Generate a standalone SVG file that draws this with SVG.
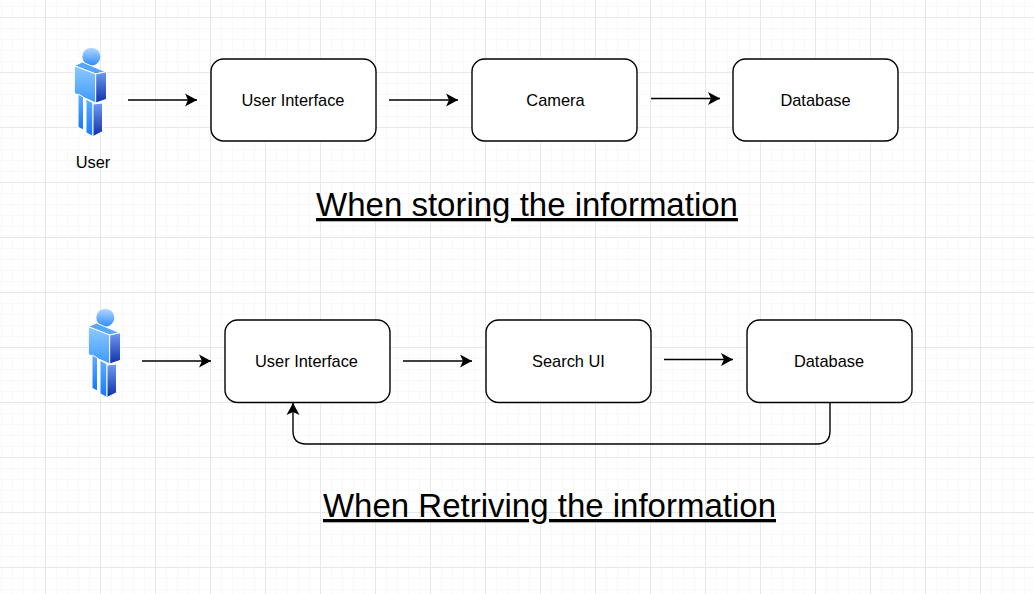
<svg xmlns="http://www.w3.org/2000/svg" xmlns:xlink="http://www.w3.org/1999/xlink" width="1034" height="594" viewBox="0 0 1034 594">
<style>
.box{fill:#fff;stroke:#000;stroke-width:1.4}
.lbl{font-family:"Liberation Sans",Arial,sans-serif;font-size:16.4px;fill:#000;text-anchor:middle}
.title{font-family:"Liberation Sans",Arial,sans-serif;font-size:33px;fill:#000;text-anchor:middle;text-decoration:underline}
.edge{fill:none;stroke:#000;stroke-width:1.4}
</style>
<defs>
<pattern id="minor" width="11" height="11" patternUnits="userSpaceOnUse" x="1" y="6"><path d="M0.5 0V11M0 0.5H11" fill="none" stroke="#f8f8f8" stroke-width="1"/></pattern>
<pattern id="major" width="55" height="55" patternUnits="userSpaceOnUse" x="45" y="17"><path d="M0.5 0V55M0 0.5H55" fill="none" stroke="#e8e8e8" stroke-width="1"/></pattern>
<marker id="arrow" markerUnits="userSpaceOnUse" markerWidth="14" markerHeight="14" refX="13" refY="7" orient="auto"><path d="M1 0.5L13 7L1 13.500L4 7Z" fill="#000"/></marker>
<linearGradient id="head" x1="0" y1="0" x2="0" y2="1"><stop offset="0" stop-color="#b4d8ff"/><stop offset="1" stop-color="#2e8bff"/></linearGradient>
<linearGradient id="light" x1="0" y1="0" x2="0" y2="1"><stop offset="0" stop-color="#8fcbff"/><stop offset="1" stop-color="#3d98ff"/></linearGradient>
<linearGradient id="dark" x1="0" y1="0" x2="0" y2="1"><stop offset="0" stop-color="#6f9cf0"/><stop offset="1" stop-color="#0f2fa8"/></linearGradient>
<linearGradient id="leg" x1="0" y1="0" x2="0" y2="1"><stop offset="0" stop-color="#5fb0ff"/><stop offset="1" stop-color="#1577ff"/></linearGradient>
<g id="person" stroke="#fff" stroke-width="1">
<circle cx="91.3" cy="56.7" r="9" fill="url(#head)" stroke="none"/>
<polygon points="74.3,65.7 82.3,62 105.500,71.7 95.7,74" fill="#56a8ff"/>
<polygon points="74.3,65.7 95.7,74 95.7,103 74.3,93.3" fill="url(#light)"/>
<polygon points="95.7,74 106.500,71.7 106.500,99.3 95.7,103" fill="url(#dark)"/>
<polygon points="78,94 83.5,97 83.5,130 78,127.3" fill="url(#leg)"/>
<polygon points="86,99 93,103 93,136.500 86,132.7" fill="url(#leg)"/>
<polygon points="93,104 102.500,103 102.500,131.7 93,136.500" fill="url(#dark)"/>
</g>
</defs>
<rect width="1034" height="594" fill="#fff"/>
<rect width="1034" height="594" fill="url(#minor)"/>
<rect width="1034" height="594" fill="url(#major)"/>
<g id="connectors">
<path class="edge" marker-end="url(#arrow)" d="M128 100H197"/>
<path class="edge" marker-end="url(#arrow)" d="M389 100H458"/>
<path class="edge" marker-end="url(#arrow)" d="M651 98.500H720"/>
<path class="edge" marker-end="url(#arrow)" d="M142 361H211"/>
<path class="edge" marker-end="url(#arrow)" d="M403 361H472"/>
<path class="edge" marker-end="url(#arrow)" d="M664 359.500H733"/>
<path class="edge" marker-end="url(#arrow)" d="M830 403V431Q830 444 817 444H306Q293 444 293 431V403"/>
</g>
<g id="user1"><use href="#person" xlink:href="#person"/><text class="lbl" x="93" y="167.500">User</text></g>
<g id="ui1"><rect class="box" x="211" y="59" width="165" height="82" rx="12.500"/><text class="lbl" x="293" y="105.500">User Interface</text></g>
<g id="camera"><rect class="box" x="472" y="59" width="165" height="82" rx="12.500"/><text class="lbl" x="555.500" y="105.500">Camera</text></g>
<g id="db1"><rect class="box" x="733" y="59" width="165" height="82" rx="12.500"/><text class="lbl" x="815.500" y="105.500">Database</text></g>
<g id="title1"><text class="title" x="527" y="216">When storing the information</text></g>
<g id="user2"><use href="#person" xlink:href="#person" transform="translate(14,261)"/></g>
<g id="ui2"><rect class="box" x="225" y="320" width="165" height="82.500" rx="12.500"/><text class="lbl" x="306.500" y="366.500">User Interface</text></g>
<g id="search"><rect class="box" x="486" y="320" width="165" height="82.500" rx="12.500"/><text class="lbl" x="568.500" y="366.500">Search UI</text></g>
<g id="db2"><rect class="box" x="747" y="320" width="165" height="82.500" rx="12.500"/><text class="lbl" x="829" y="366.500">Database</text></g>
<g id="title2"><text class="title" x="549.500" y="517">When Retriving the information</text></g>
</svg>
